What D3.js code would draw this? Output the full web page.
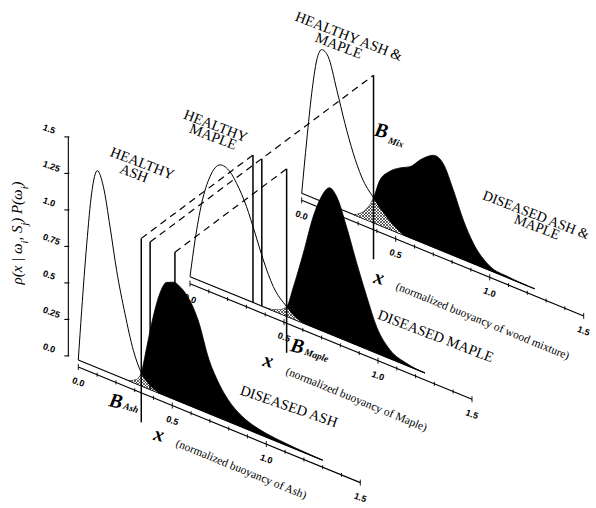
<!DOCTYPE html>
<html>
<head>
<meta charset="utf-8">
<title>Buoyancy of healthy and diseased wood</title>
<script src="https://cdnjs.cloudflare.com/ajax/libs/d3/7.8.5/d3.min.js"></script>
<style>
	body { margin: 0; background: #fff; }
	svg { display: block; }
	.serif { font-family: "Liberation Serif", "Times New Roman", serif; }
	.tick-label { font-family: "Liberation Sans", Arial, sans-serif; font-weight: bold; font-size: 9px; }
	.axis-line { fill: none; stroke: #000; stroke-width: 1.1px; }
	.curve { fill: none; stroke: #000; stroke-width: 1px; }
	.diseased { fill: #000; stroke: #000; stroke-width: 0.8px; }
	.bline { stroke: #000; stroke-width: 1.5px; }
	.dashed { stroke: #000; stroke-width: 1.2px; stroke-dasharray: 7 5; fill: none; }
</style>
</head>
<body>
<script>
"use strict";

// ---- data ----
var panelNames = ["Ash", "Maple", "Mix"];
var healthyTitles = [["HEALTHY", "ASH"], ["HEALTHY", "MAPLE"], ["HEALTHY ASH &", "MAPLE"]];
var diseasedTitles = [["DISEASED ASH"], ["DISEASED MAPLE"], ["DISEASED ASH &", "MAPLE"]];
var axisNames = ["(normalized buoyancy of Ash)", "(normalized buoyancy of Maple)", "(normalized buoyancy of wood mixture)"];

var xTickValues = [0, 0.5, 1.0, 1.5];
var xTickLabels = ["0.0", "0.5", "1.0", "1.5"];
var yTickValues = [0, 0.25, 0.5, 0.75, 1.0, 1.25, 1.5];
var yTickLabels = ["0.0", "0.25", "0.5", "0.75", "1.0", "1.25", "1.5"];

// [buoyancy x, density]
var healthyAsh = [[0, 0], [0.018, 0.35], [0.045, 0.82], [0.071, 1.18], [0.101, 1.35], [0.133, 1.26],
	[0.169, 1.0], [0.204, 0.72], [0.248, 0.45], [0.293, 0.22], [0.335, 0.09], [0.38, 0.03], [0.43, 0]];
var diseasedAsh = [[0.27, 0], [0.31, 0.03], [0.335, 0.09], [0.364, 0.28], [0.399, 0.51], [0.435, 0.69],
	[0.47, 0.78], [0.505, 0.80], [0.55, 0.78], [0.594, 0.72], [0.637, 0.61], [0.695, 0.37], [0.75, 0.23],
	[0.796, 0.15], [0.87, 0.075], [0.94, 0.04], [1.0, 0.025], [1.1, 0.012], [1.2, 0.005], [1.3, 0]];
var healthyMaple = [[0, 0], [0.027, 0.265], [0.062, 0.535], [0.106, 0.74], [0.16, 0.85], [0.213, 0.83],
	[0.248, 0.77], [0.30, 0.64], [0.346, 0.48], [0.39, 0.32], [0.443, 0.166], [0.514, 0.066], [0.56, 0.02], [0.62, 0]];
var diseasedMaple = [[0.42, 0], [0.47, 0.02], [0.514, 0.066], [0.55, 0.22], [0.603, 0.48], [0.656, 0.76],
	[0.70, 0.92], [0.741, 1.0], [0.78, 0.96], [0.833, 0.78], [0.887, 0.56], [0.94, 0.36], [0.993, 0.18],
	[1.064, 0.06], [1.15, 0.015], [1.25, 0]];
var healthyMix = [[0, 0], [0.027, 0.38], [0.053, 0.71], [0.08, 0.955], [0.106, 1.04], [0.141, 1.01],
	[0.186, 0.81], [0.23, 0.60], [0.274, 0.42], [0.319, 0.28], [0.382, 0.17], [0.45, 0.08], [0.5, 0.03], [0.55, 0]];
var diseasedMix = [[0.28, 0], [0.33, 0.05], [0.382, 0.17], [0.416, 0.31], [0.47, 0.40], [0.523, 0.45],
	[0.576, 0.486], [0.629, 0.56], [0.70, 0.63], [0.753, 0.60], [0.806, 0.45], [0.86, 0.27], [0.913, 0.14],
	[1.0, 0.03], [1.1, 0.008], [1.2, 0]];

var healthy = [healthyAsh, healthyMaple, healthyMix];
var diseased = [diseasedAsh, diseasedMaple, diseasedMix];
var baselineEnd = [1.3, 1.25, 1.24];

// decision boundaries: value, panels it is shown in, panel where it is labelled
var thresholdNames = ["Ash", "Mix", "Maple"];
var thresholdValues = [0.335, 0.382, 0.514];
var thresholdPanels = [[0, 1], [0, 1, 2], [0, 1]];
var thresholdHome = [0, 2, 1];
var thresholdTop = 1.01;
var thresholdFoot = -0.25;

// ---- layout ----
var W = 596, H = 508;
var svg = d3.select("body").append("svg").attr("width", W).attr("height", H);

var along = d3.scaleLinear().domain([0, 1.5]).range([0, 282]);
var rise = 0.41;
var tilt = Math.atan(rise) * 180 / Math.PI;
var height = d3.scaleLinear().domain([0, 1.5]).range([0, 219]);
var depthX = d3.scaleLinear().domain([0, 2]).range([78.3, 301.7]);
var depthY = d3.scaleLinear().domain([0, 2]).range([360, 193.3]);
var axisGap = 7;

function px(p, x) { return depthX(p) + along(x); }
function py(p, x, y) { return depthY(p) + along(x) * rise - height(y); }

var layout = {
	healthyTitle: [[[142.5, 163], [134, 173]], [[215.8, 125.5], [213.3, 136.5]], [[349, 36], [339, 45.5]]],
	diseasedTitle: [[[289, 406]], [[435.8, 335.8]], [[536, 215], [537, 227]]],
	xLetter: [[80.7, 74], [78.3, 83.3], [77.3, 83.7]],
	axisName: [[96.7, 86], [95, 97.3], [93.3, 95.7]],
	bLetter: [[116, 400.5], [381.5, 130], [297.5, 345.5]],
	bSub: [[131, 408], [396, 142.5], [316.5, 355.5]]
};

// hatch pattern for the overlap region
var defs = svg.append("defs");
defs.append("pattern")
	.attr("id", "hatch")
	.attr("patternUnits", "userSpaceOnUse")
	.attr("width", 3).attr("height", 3)
	.append("path")
		.attr("d", "M0,0L3,3M3,0L0,3")
		.attr("stroke", "#000")
		.attr("stroke-width", 0.6);

function areaFor(p) {
	return d3.area()
		.x(function(d) { return px(p, d[0]); })
		.y0(function(d) { return py(p, d[0], 0); })
		.y1(function(d) { return py(p, d[0], d[1]); })
		.curve(d3.curveMonotoneX);
}
function lineFor(p) {
	return d3.line()
		.x(function(d) { return px(p, d[0]); })
		.y(function(d) { return py(p, d[0], d[1]); })
		.curve(d3.curveMonotoneX);
}

function rotatedText(g, pos, angle, str, cls, size) {
	return g.append("text")
		.attr("class", cls)
		.attr("transform", "translate(" + pos[0] + "," + pos[1] + ") rotate(" + angle + ")")
		.attr("text-anchor", "middle")
		.attr("dominant-baseline", "central")
		.style("font-size", size + "px")
		.text(str);
}

// ---- panels, back to front ----
[2, 1, 0].forEach(function(p) {
	var g = svg.append("g").attr("class", "panel panel-" + panelNames[p]);

	// baseline under the curves
	g.append("line").attr("class", "axis-line")
		.attr("x1", px(p, 0)).attr("y1", py(p, 0, 0))
		.attr("x2", px(p, baselineEnd[p])).attr("y2", py(p, baselineEnd[p], 0));

	// buoyancy axis with ticks
	g.append("line").attr("class", "axis-line")
		.attr("x1", px(p, 0)).attr("y1", py(p, 0, 0) + axisGap)
		.attr("x2", px(p, 1.5)).attr("y2", py(p, 1.5, 0) + axisGap);

	var minor = along.ticks(15);
	g.selectAll("line.tick").data(minor).enter().append("line")
		.attr("class", "axis-line tick")
		.attr("x1", function(d) { return px(p, d); })
		.attr("x2", function(d) { return px(p, d); })
		.attr("y1", function(d) { return py(p, d, 0) + axisGap - (xTickValues.indexOf(+d.toFixed(1)) >= 0 ? 3 : 2); })
		.attr("y2", function(d) { return py(p, d, 0) + axisGap + (xTickValues.indexOf(+d.toFixed(1)) >= 0 ? 3 : 2); })
		.style("stroke-width", "0.9px");

	xTickValues.forEach(function(v, i) {
		rotatedText(g, [px(p, v), py(p, v, 0) + axisGap + 15], 20, xTickLabels[i], "tick-label", 9);
	});

	// diseased distribution (black)
	g.append("path").attr("class", "diseased").attr("d", areaFor(p)(diseased[p]));

	// overlap of the two distributions, hatched
	var clipId = "clip-healthy-" + p;
	defs.append("clipPath").attr("id", clipId)
		.append("path").attr("d", areaFor(p)(healthy[p]));
	g.append("path").attr("d", areaFor(p)(diseased[p]))
		.attr("clip-path", "url(#" + clipId + ")")
		.attr("fill", "#fff");
	g.append("path").attr("d", areaFor(p)(diseased[p]))
		.attr("clip-path", "url(#" + clipId + ")")
		.attr("fill", "url(#hatch)");

	// healthy distribution (outline)
	g.append("path").attr("class", "curve").attr("d", lineFor(p)(healthy[p]));

	// titles
	healthyTitles[p].forEach(function(t, i) {
		rotatedText(g, layout.healthyTitle[p][i], 21, t, "serif", 14.5);
	});
	diseasedTitles[p].forEach(function(t, i) {
		rotatedText(g, layout.diseasedTitle[p][i], p === 0 ? 19 : 21, t, "serif", p === 2 ? 14 : 14.5);
	});

	// axis title
	var o = [depthX(p), depthY(p)];
	rotatedText(g, [o[0] + layout.xLetter[p][0], o[1] + layout.xLetter[p][1]], 12, "x", "serif", 20)
		.style("font-weight", "bold").style("font-style", "italic");
	g.append("text")
		.attr("class", "serif")
		.attr("transform", "translate(" + (o[0] + layout.axisName[p][0]) + "," + (o[1] + layout.axisName[p][1]) + ") rotate(" + tilt + ")")
		.style("font-size", "11.5px")
		.text(axisNames[p]);
});

// ---- density axis on the front panel ----
var yAxisX = -0.053;
var yg = svg.append("g").attr("class", "y-axis");
yg.append("line").attr("class", "axis-line")
	.attr("x1", px(0, yAxisX)).attr("y1", py(0, yAxisX, 0))
	.attr("x2", px(0, yAxisX)).attr("y2", py(0, yAxisX, 1.5));
yTickValues.forEach(function(v, i) {
	var x0 = px(0, yAxisX), y0 = py(0, yAxisX, v);
	yg.append("line").attr("class", "axis-line")
		.attr("x1", x0 - 4).attr("y1", y0).attr("x2", x0 + 1).attr("y2", y0);
	yg.append("text")
		.attr("class", "tick-label")
		.attr("transform", "translate(" + (x0 - 25) + "," + (y0 - 10) + ") rotate(20)")
		.attr("dominant-baseline", "central")
		.text(yTickLabels[i]);
});

var yTitle = yg.append("text")
	.attr("class", "serif")
	.attr("transform", "translate(22,233) rotate(-90)")
	.attr("text-anchor", "middle")
	.style("font-size", "15px")
	.style("font-style", "italic");
yTitle.append("tspan").text("\u03C1(x | \u03C9");
yTitle.append("tspan").attr("baseline-shift", "sub").style("font-size", "10px").text("i");
yTitle.append("tspan").text(", S");
yTitle.append("tspan").attr("baseline-shift", "sub").style("font-size", "10px").text("j");
yTitle.append("tspan").text(")  P(\u03C9");
yTitle.append("tspan").attr("baseline-shift", "sub").style("font-size", "10px").text("i");
yTitle.append("tspan").text(")");

// ---- decision boundaries and their projections ----
var tg = svg.append("g").attr("class", "thresholds");
thresholdValues.forEach(function(b, k) {
	var ps = thresholdPanels[k];
	ps.forEach(function(p) {
		var foot = p === thresholdHome[k] ? thresholdFoot : 0;
		tg.append("line").attr("class", "bline")
			.attr("x1", px(p, b)).attr("y1", py(p, b, foot))
			.attr("x2", px(p, b)).attr("y2", py(p, b, thresholdTop));
	});
	tg.append("line").attr("class", "dashed")
		.attr("x1", px(ps[0], b)).attr("y1", py(ps[0], b, thresholdTop))
		.attr("x2", px(ps[ps.length - 1], b)).attr("y2", py(ps[ps.length - 1], b, thresholdTop));

	tg.append("text").attr("class", "serif")
		.attr("transform", "translate(" + layout.bLetter[k][0] + "," + layout.bLetter[k][1] + ") rotate(12)")
		.attr("text-anchor", "middle").attr("dominant-baseline", "central")
		.style("font-size", "20px").style("font-weight", "bold").style("font-style", "italic")
		.text("B");
	tg.append("text").attr("class", "serif")
		.attr("transform", "translate(" + layout.bSub[k][0] + "," + layout.bSub[k][1] + ") rotate(18)")
		.attr("text-anchor", "middle").attr("dominant-baseline", "central")
		.style("font-size", "9.5px").style("font-weight", "bold").style("font-style", "italic")
		.text(thresholdNames[k]);
});
</script>
</body>
</html>
